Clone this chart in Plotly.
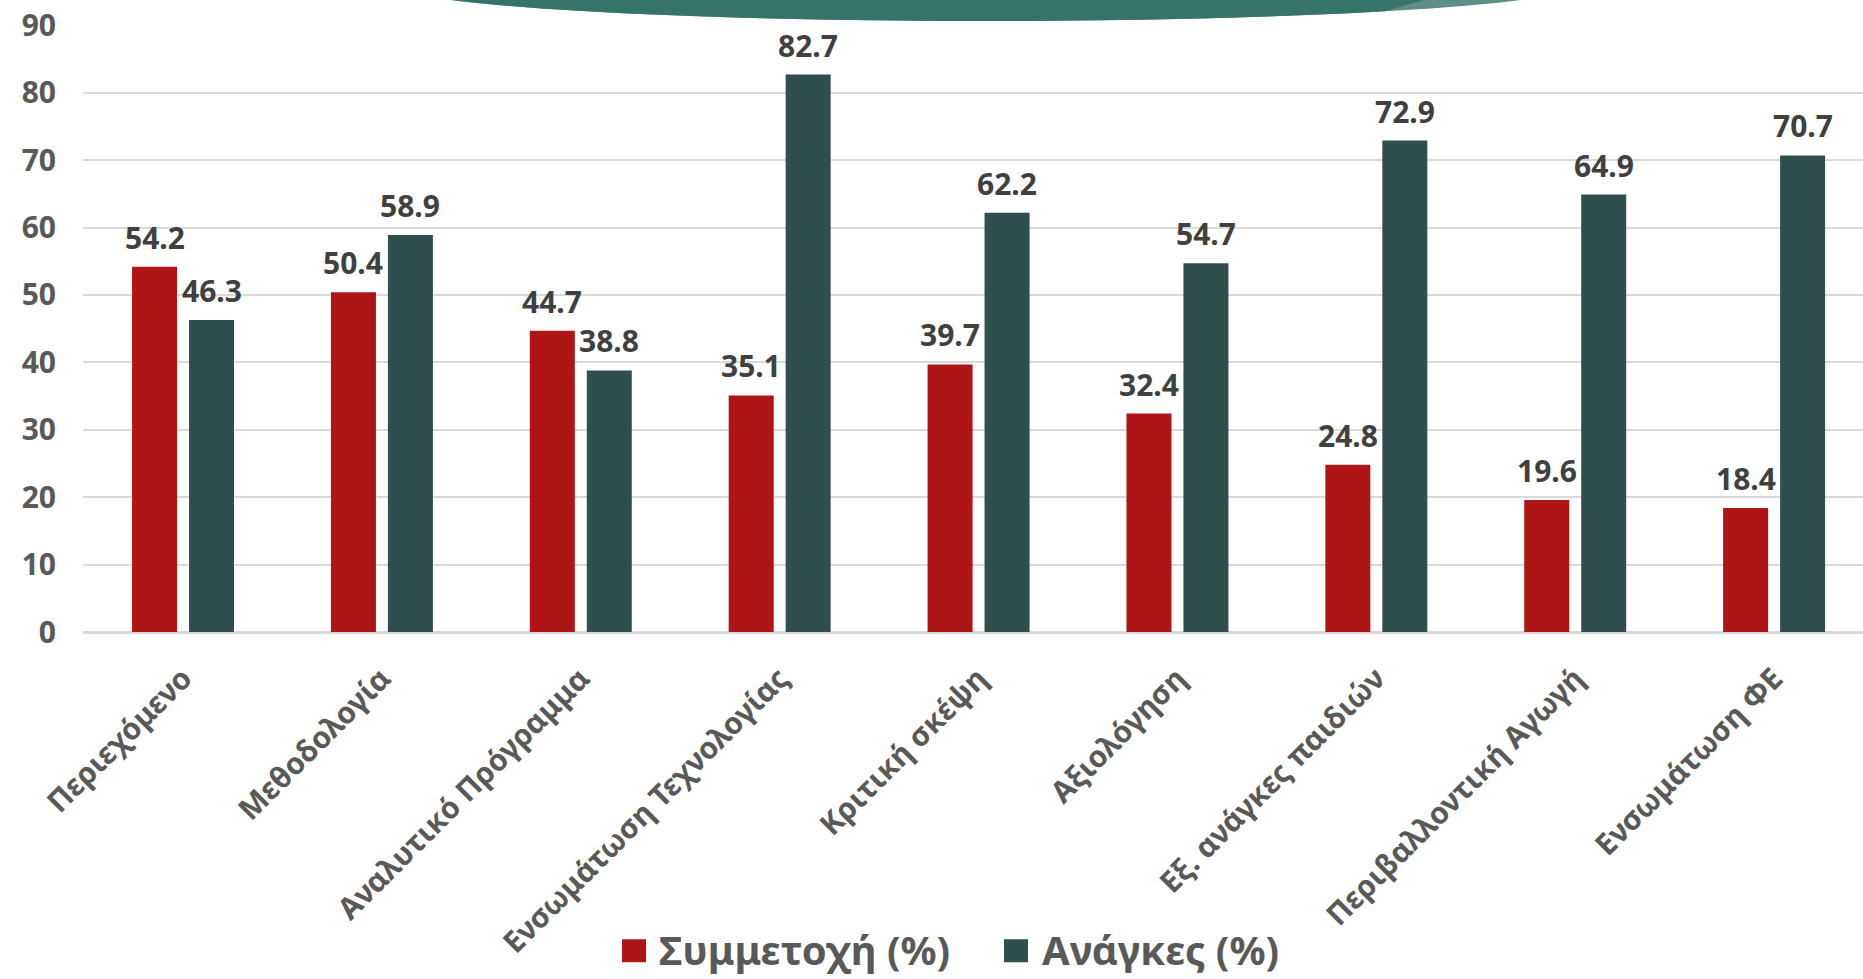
import math
import plotly.graph_objects as go

# ---------------- data ----------------
categories = [
    "Περιεχόμενο",
    "Μεθοδολογία",
    "Αναλυτικό Πρόγραμμα",
    "Ενσωμάτωση Τεχνολογίας",
    "Κριτική σκέψη",
    "Αξιολόγηση",
    "Εξ. ανάγκες παιδιών",
    "Περιβαλλοντική Αγωγή",
    "Ενσωμάτωση ΦΕ",
]
participation = [54.2, 50.4, 44.7, 35.1, 39.7, 32.4, 24.8, 19.6, 18.4]
needs = [46.3, 58.9, 38.8, 82.7, 62.2, 54.7, 72.9, 64.9, 70.7]
series_names = ["Συμμετοχή (%)", "Ανάγκες (%)"]
y_ticks = [0, 10, 20, 30, 40, 50, 60, 70, 80, 90]

# ---------------- style ----------------
W, H = 1863, 979
M_L, M_R, M_T, M_B = 83, 0, 25, 346.5
RED = "#AE1517"
GREEN = "#2F4F4E"
GRID = "#D9D9D9"
TICK_COLOR = "#595959"
LABEL_COLOR = "#404040"
FONT = "Noto Sans"

PLOT_W = W - M_L - M_R
PLOT_H = H - M_T - M_B


def px(x):
    return (x - M_L) / PLOT_W


def py(y):
    return (H - M_B - y) / PLOT_H


fig = go.Figure()
fig.add_trace(go.Bar(x=categories, y=participation, name=series_names[0],
                     marker=dict(color=RED, line=dict(width=0)), showlegend=False))
fig.add_trace(go.Bar(x=categories, y=needs, name=series_names[1],
                     marker=dict(color=GREEN, line=dict(width=0)), showlegend=False))

# data labels
annotations = []
for series, shift in ((participation, -28.5), (needs, 28.5)):
    for c, v in zip(categories, series):
        annotations.append(dict(
            x=c, y=v, xref="x", yref="y", text=f"{v}", showarrow=False,
            xanchor="center", yanchor="bottom", xshift=shift, yshift=7,
            font=dict(family=FONT, size=30, color=LABEL_COLOR, weight="bold"),
        ))

# custom legend (large square swatches)
shapes = []
legend_items = [(series_names[0], RED, 622, 657), (series_names[1], GREEN, 1004, 1040)]
for name, col, sx, tx in legend_items:
    shapes.append(dict(type="rect", xref="paper", yref="paper",
                       x0=px(sx), x1=px(sx + 24), y0=py(963), y1=py(940),
                       fillcolor=col, line=dict(width=0)))
    annotations.append(dict(
        x=px(tx), y=py(950), xref="paper", yref="paper", text=name,
        showarrow=False, xanchor="left", yanchor="middle",
        font=dict(family=FONT, size=40, color=TICK_COLOR, weight="bold"),
    ))

# decorative teal arc at the top
cx, cy, a, b = 986, -17.4, 600, 38.4
shapes.append(dict(type="circle", xref="paper", yref="paper",
                   x0=px(cx - a), x1=px(cx + a), y0=py(cy + b), y1=py(cy - b),
                   fillcolor="#5E8E86", line=dict(width=0), layer="above"))
pts = []
th_end = math.acos((1385 - cx) / a)
n = 60
for i in range(n + 1):
    th = math.pi - (math.pi - th_end) * i / n
    pts.append((cx + a * math.cos(th), cy + b * math.sin(th)))
pts.append((1430, -2))
pts.append((1430, -70))
pts.append((cx - a, -70))
path = "M " + " L ".join(f"{px(x):.5f},{py(y):.5f}" for x, y in pts) + " Z"
shapes.append(dict(type="path", xref="paper", yref="paper", path=path,
                   fillcolor="#367368", line=dict(width=0), layer="above"))

fig.update_layout(
    width=W, height=H,
    margin=dict(l=M_L, r=M_R, t=M_T, b=M_B, pad=0),
    paper_bgcolor="white", plot_bgcolor="white",
    barmode="group", bargap=0.427, bargroupgap=0.21,
    font=dict(family=FONT, color=TICK_COLOR),
    annotations=annotations, shapes=shapes,
    showlegend=False,
)
fig.update_xaxes(
    range=[-0.503, 8.447], showgrid=False, showline=True, linecolor=GRID, linewidth=2,
    ticks="", tickangle=-45, ticklabelstandoff=15,
    tickfont=dict(family=FONT, size=30, color=TICK_COLOR, weight="bold"),
)
fig.update_yaxes(
    range=[0, 90.05], tickvals=y_ticks, showgrid=True, gridcolor=GRID, gridwidth=2,
    zeroline=True, zerolinecolor=GRID, zerolinewidth=2, showline=False,
    ticks="", ticklabelstandoff=26,
    tickfont=dict(family=FONT, size=30, color=TICK_COLOR, weight="bold"),
)

fig.write_html(
    "out.html",
    config={"displayModeBar": False},
    post_script="document.body.style.margin='0';document.body.style.overflow='hidden';",
)
